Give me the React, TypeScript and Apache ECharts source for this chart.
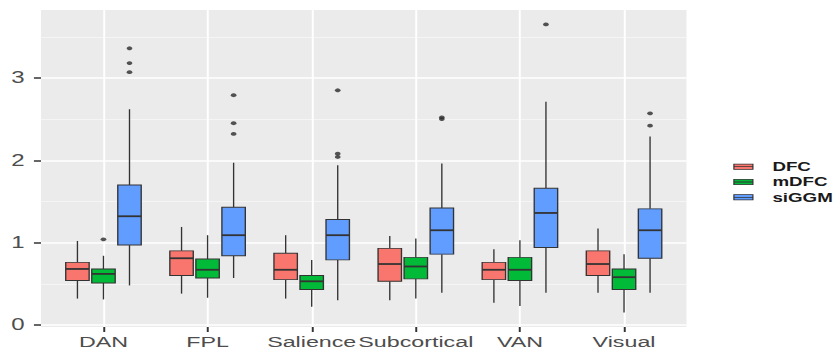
import React, { useEffect, useRef } from "react";
import * as echarts from "echarts";

// ---- data ----
const categories = ["DAN", "FPL", "Salience", "Subcortical", "VAN", "Visual"];
const methods = ["DFC", "mDFC", "siGGM"];
const methodColors = ["#F8766D", "#00BA38", "#619CFF"];

// [lower whisker, Q1, median, Q3, upper whisker] per category
const dfcStats = [
  [0.32, 0.54, 0.68, 0.76, 1.02],
  [0.38, 0.6, 0.81, 0.9, 1.19],
  [0.32, 0.55, 0.67, 0.87, 1.09],
  [0.3, 0.53, 0.74, 0.93, 1.08],
  [0.27, 0.55, 0.67, 0.76, 0.92],
  [0.39, 0.6, 0.74, 0.9, 1.17],
];
const mdfcStats = [
  [0.31, 0.51, 0.62, 0.68, 0.84],
  [0.33, 0.57, 0.67, 0.8, 1.09],
  [0.22, 0.43, 0.53, 0.6, 0.79],
  [0.32, 0.56, 0.71, 0.82, 1.05],
  [0.23, 0.54, 0.67, 0.82, 1.03],
  [0.15, 0.43, 0.58, 0.68, 0.86],
];
const siggmStats = [
  [0.48, 0.97, 1.32, 1.7, 2.62],
  [0.57, 0.84, 1.09, 1.43, 1.97],
  [0.3, 0.79, 1.09, 1.28, 1.94],
  [0.39, 0.86, 1.15, 1.42, 1.96],
  [0.39, 0.94, 1.36, 1.66, 2.71],
  [0.39, 0.81, 1.15, 1.41, 2.29],
];

// outliers: [category index, value]
const dfcOutliers: number[][] = [];
const mdfcOutliers = [[0, 1.04]];
const siggmOutliers = [
  [0, 3.36], [0, 3.18], [0, 3.07],
  [1, 2.79], [1, 2.45], [1, 2.32],
  [2, 2.85], [2, 2.08], [2, 2.04],
  [3, 2.52], [3, 2.5],
  [4, 3.65],
  [5, 2.57], [5, 2.42],
];

const yTicks = [0, 1, 2, 3];
const yMinor = [0.5, 1.5, 2.5, 3.5];

const allStats = [dfcStats, mdfcStats, siggmStats];
const allOutliers = [dfcOutliers, mdfcOutliers, siggmOutliers];

// ---- layout ----
const S = 1.5; // horizontal stretch of the reference image
const W = 838;
const H = 351;
const DODGE = 0.25;
const BOX_W = 0.225;
const FONT = "'Liberation Sans', Arial, Helvetica, sans-serif";

export default function App() {
  const ref = useRef<HTMLDivElement>(null);

  useEffect(() => {
    if (!ref.current) return;
    const chart = echarts.init(ref.current, undefined, { renderer: "svg" });

    const boxSeries = methods.map((name, m) => {
      const offset = (m - 1) * DODGE;
      return {
        name,
        type: "custom",
        z: 10,
        itemStyle: { color: methodColors[m] },
        encode: { x: 0, y: [1, 2, 3, 4, 5] },
        data: allStats[m].map((s, i) => [i, ...s]),
        renderItem: (params: any, api: any) => {
          const x = api.value(0) + offset;
          const lo = api.coord([x, api.value(1)]);
          const q1 = api.coord([x, api.value(2)]);
          const med = api.coord([x, api.value(3)]);
          const q3 = api.coord([x, api.value(4)]);
          const hi = api.coord([x, api.value(5)]);
          const w = api.size([BOX_W, 0])[0];
          const cx = lo[0];
          const stroke = "#333333";
          return {
            type: "group",
            children: [
              { type: "line", shape: { x1: cx, y1: hi[1], x2: cx, y2: q3[1] }, style: { stroke, lineWidth: 0.9 } },
              { type: "line", shape: { x1: cx, y1: q1[1], x2: cx, y2: lo[1] }, style: { stroke, lineWidth: 0.9 } },
              {
                type: "rect",
                shape: { x: cx - w / 2, y: q3[1], width: w, height: q1[1] - q3[1] },
                style: { fill: api.visual("color"), stroke, lineWidth: 0.9 },
              },
              {
                type: "line",
                shape: { x1: cx - w / 2, y1: med[1], x2: cx + w / 2, y2: med[1] },
                style: { stroke, lineWidth: 1.8 },
              },
            ],
          };
        },
      };
    });

    const gridLines = [
      ...yTicks.map((v) => ({ yAxis: v, lineStyle: { color: "#FFFFFF", width: 1.5, type: "solid" } })),
      ...yMinor.map((v) => ({ yAxis: v, lineStyle: { color: "#FFFFFF", width: 0.7, type: "solid" } })),
      ...categories.map((_, i) => ({ xAxis: i, lineStyle: { color: "#FFFFFF", width: 1.3, type: "solid" } })),
    ];

    const outlierSeries = methods.map((name, m) => ({
      name: name + " outliers",
      type: "scatter",
      z: 11,
      symbol: "circle",
      symbolSize: 3.8,
      itemStyle: { color: "#2a2a2a" },
      data: allOutliers[m].map((p) => [p[0] + (m - 1) * DODGE, p[1]]),
      markLine:
        m === 2
          ? {
              silent: true,
              symbol: ["none", "none"],
              label: { show: false },
              emphasis: { disabled: true },
              animation: false,
              data: gridLines,
            }
          : undefined,
    }));

    chart.setOption({
      animation: false,
      grid: {
        left: 41 / S,
        right: (W - 686) / S,
        top: 10,
        bottom: H - 327,
        show: true,
        backgroundColor: "#EBEBEB",
        borderWidth: 0,
        containLabel: false,
      },
      xAxis: {
        type: "value",
        position: "bottom",
        min: -0.6,
        max: 5.6,
        axisLine: { show: false, onZero: false },
        splitLine: { show: false },
        axisTick: { show: true, length: 5, lineStyle: { color: "#333333", width: 1.3 }, customValues: categories.map((_, i) => i) },
        axisLabel: {
          customValues: categories.map((_, i) => i),
          formatter: (v: number) => categories[Math.round(v)] ?? "",
          color: "#4D4D4D",
          fontSize: 15.5,
          fontFamily: FONT,
          margin: 7,
        },
      },
      yAxis: {
        type: "value",
        position: "left",
        min: -0.025,
        max: 3.825,
        axisLine: { show: false, onZero: false },
        splitLine: { show: false },
        axisTick: { show: true, length: 4.7, lineStyle: { color: "#333333", width: 1.5 }, customValues: yTicks },
        axisLabel: {
          customValues: yTicks,
          color: "#4D4D4D",
          fontSize: 16,
          fontFamily: FONT,
          margin: 11,
        },
      },
      legend: {
        data: methods,
        orient: "vertical",
        left: 733.3 / S,
        top: 159.7,
        padding: 0,
        itemWidth: 19 / S,
        itemHeight: 8,
        itemGap: 1.3,
        icon: "path://M0,0H19V8H0ZM0,4H19",
        itemStyle: { borderColor: "#333333", borderWidth: 0.8 },
        textStyle: {
          fontSize: 12.5,
          fontWeight: "bold",
          color: "#1a1a1a",
          fontFamily: FONT,
          padding: [0, 0, 0, 8],
          lineHeight: 14,
        },
      },
      series: [...boxSeries, ...outlierSeries],
    });

    return () => chart.dispose();
  }, []);

  return (
    <div
      ref={ref}
      style={{
        position: "absolute",
        left: 0,
        top: 0,
        width: `${W / S}px`,
        height: `${H}px`,
        transform: `scaleX(${S})`,
        transformOrigin: "0 0",
      }}
    />
  );
}
